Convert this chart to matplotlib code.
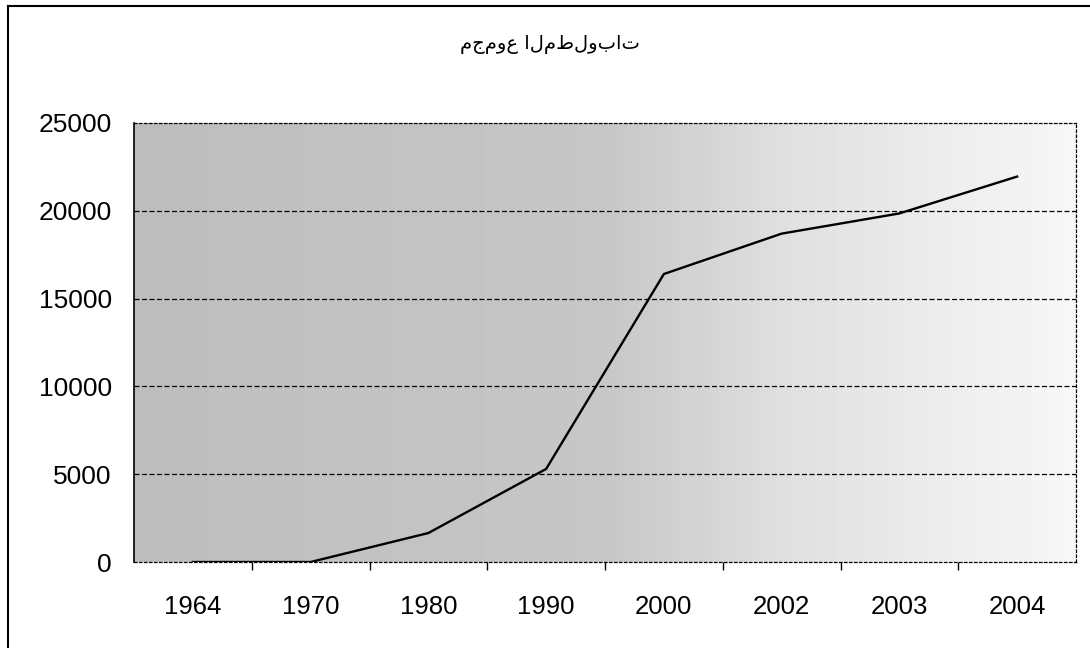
import numpy as np
import matplotlib
matplotlib.use('Agg')
import matplotlib.pyplot as plt
from matplotlib.lines import Line2D

plt.rcParams['font.family'] = ['Liberation Sans', 'DejaVu Sans']

# data
years = ['1964', '1970', '1980', '1990', '2000', '2002', '2003', '2004']
totals = [0, 0, 1650, 5300, 16400, 18700, 19850, 21950]
title = 'مجموع المطلوبات'

fig = plt.figure(figsize=(10.9, 6.48), dpi=100)
ax = fig.add_axes([134/1090, 1 - 562/648, (1076 - 134)/1090, (562 - 123)/648])

x = np.arange(len(years))
ax.set_xlim(-0.5, len(years) - 0.5)
ax.set_ylim(0, 25000)

# grey scanned-looking shading, darker on the left, fading out to the right
u = np.linspace(0, 1, 256)
grad = np.interp(u, [0, 0.5, 0.7, 1], [0.74, 0.78, 0.88, 0.97]).reshape(1, -1)
ax.imshow(grad, cmap='gray', vmin=0, vmax=1, aspect='auto',
          extent=[0, 1, 0, 1], transform=ax.transAxes, zorder=0)

for yv in [5000, 10000, 15000, 20000]:
    ax.axhline(yv, color='black', lw=0.9, ls=(0, (4, 2)), zorder=1)

ax.plot(x, totals, color='black', lw=1.7, zorder=3)

ax.set_yticks([0, 5000, 10000, 15000, 20000, 25000])
ax.tick_params(axis='y', length=0, pad=16, labelsize=19)
ax.set_xticks(x)
ax.set_xticklabels(years)
ax.tick_params(axis='x', which='major', length=0, pad=24, labelsize=18.5)
ax.set_xticks(np.arange(0.5, len(years) - 1, 1.0), minor=True)
ax.tick_params(axis='x', which='minor', length=6, width=1, direction='out')

ax.spines['left'].set_linewidth(1.2)
for s in ['top', 'right', 'bottom']:
    ax.spines[s].set_linestyle((0, (2, 2)))
    ax.spines[s].set_linewidth(0.9)

fig.text(550/1090, 1 - 45/648, title, ha='center', va='center',
         fontsize=14, family=['DejaVu Sans'])

# outer frame of the chart area
fig.add_artist(Line2D([8/1090, 1], [1 - 6/648, 1 - 6/648], color='black', lw=1.5))
fig.add_artist(Line2D([8/1090, 8/1090], [0, 1 - 6/648], color='black', lw=1.5))

fig.savefig('out.png', dpi=100)
